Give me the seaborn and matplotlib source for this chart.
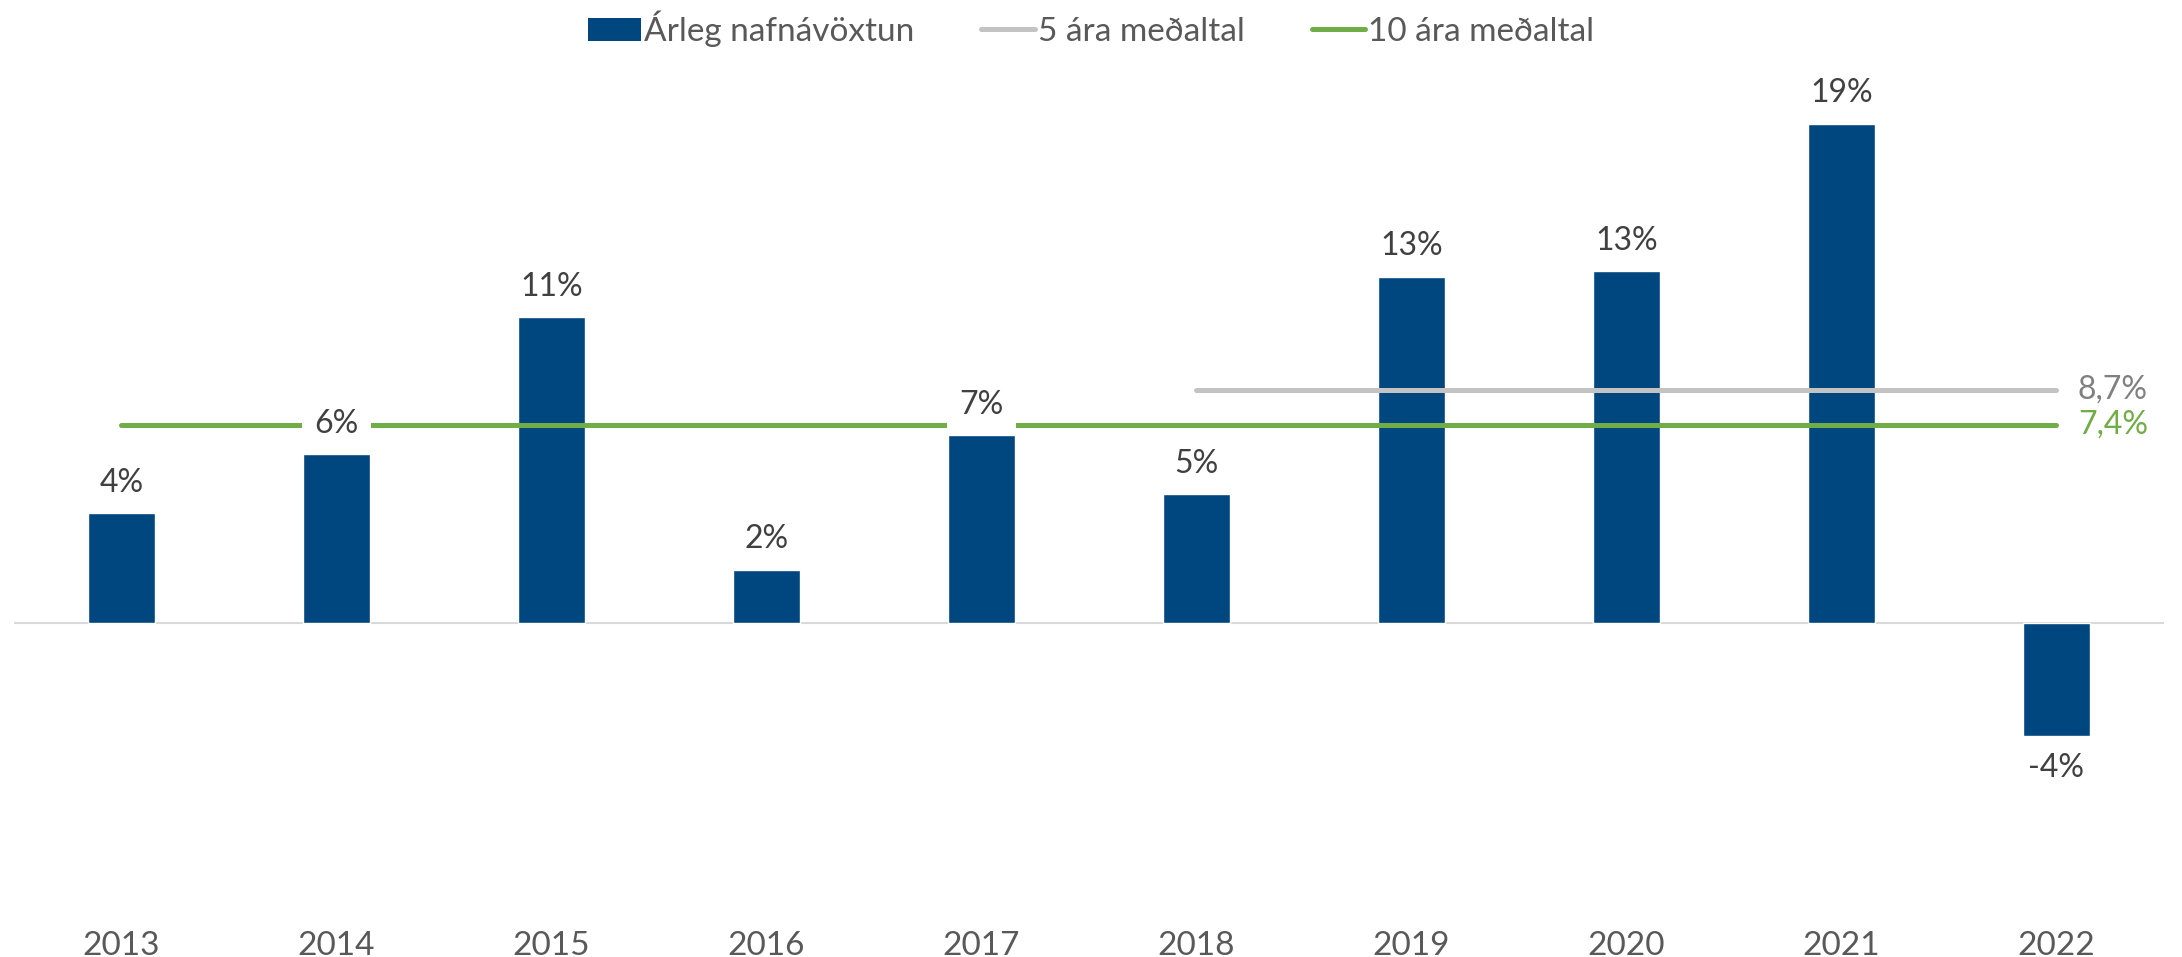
import numpy as np
import pandas as pd
import seaborn as sns
import matplotlib.pyplot as plt
from matplotlib.patches import Patch
from matplotlib.lines import Line2D

years = ['2013', '2014', '2015', '2016', '2017', '2018', '2019', '2020', '2021', '2022']
growth = [4.1, 6.3, 11.4, 2.0, 7.0, 4.8, 12.9, 13.1, 18.6, -4.2]
avg5_years = ['2018', '2022']
avg5 = 8.7
avg10_years = ['2013', '2022']
avg10 = 7.4

bar_color = '#00467F'
gray = '#C3C3C3'
green = '#70AD47'

sns.set_theme(style='white')
plt.rcParams['font.family'] = ['Lato', 'DejaVu Sans']

fig = plt.figure(figsize=(21.82, 9.57), dpi=100)
ax = fig.add_axes([0.0064, 0.0596, 0.9853, 0.8777])

df = pd.DataFrame({'year': years, 'growth': growth})
sns.barplot(data=df, x='year', y='growth', color=bar_color, width=0.31,
            saturation=1, ax=ax, zorder=2)

# average lines from first to last year of the period
x5 = [years.index(y) for y in avg5_years]
x10 = [years.index(y) for y in avg10_years]
ax.plot(x5, [avg5, avg5], color=gray, lw=3.6, solid_capstyle='round', zorder=3)
ax.plot(x10, [avg10, avg10], color=green, lw=3.6, solid_capstyle='round', zorder=3)

ax.text(x5[1] + 0.1, avg5, f"{avg5:.1f}%".replace('.', ','), color='#808080',
        fontsize=23, va='center', ha='left')
ax.text(x10[1] + 0.1, avg10, f"{avg10:.1f}%".replace('.', ','), color=green,
        fontsize=23, va='center', ha='left')

# value labels (white box hides the average line behind them)
for i, v in enumerate(growth):
    off = 11 if v >= 0 else -12
    ax.annotate(f"{v:.0f}%", (i, v), xytext=(0, off), textcoords='offset points',
                ha='center', va='bottom' if v >= 0 else 'top', fontsize=23,
                color='#404040', zorder=5,
                bbox=dict(boxstyle='square,pad=0.4', fc='white', ec='none'))

ax.axhline(0, color='#D9D9D9', lw=1.5, zorder=1)
ax.set_ylim(-10.3, 20.97)
ax.set_xlim(-0.5, 9.5)
sns.despine(ax=ax, left=True, bottom=True, top=True, right=True)
ax.set_yticks([])
ax.set_xlabel('')
ax.set_ylabel('')
ax.tick_params(axis='x', length=0, pad=22, labelsize=24, labelcolor='#595959')

handles = [Patch(facecolor=bar_color, edgecolor='none'),
           Line2D([0], [0], color=gray, lw=3.6),
           Line2D([0], [0], color=green, lw=3.6)]
labels = ['Árleg nafnávöxtun', '5 ára meðaltal', '10 ára meðaltal']
fig.legend(handles, labels, loc='center', bbox_to_anchor=(0.5, 0.97), ncol=3,
           frameon=False, fontsize=24, handlelength=1.6, handletextpad=0.1,
           columnspacing=2.0, labelcolor='#595959')

fig.savefig('out.png', dpi=100)
